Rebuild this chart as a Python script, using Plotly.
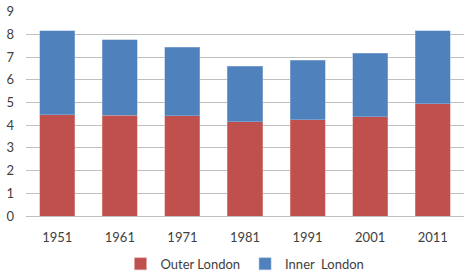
import plotly.graph_objects as go

years = ["1951", "1961", "1971", "1981", "1991", "2001", "2011"]
outer_london = [4.46, 4.43, 4.41, 4.16, 4.25, 4.38, 4.95]
inner_london = [3.69, 3.33, 3.02, 2.43, 2.62, 2.79, 3.20]

fig = go.Figure()
fig.add_trace(go.Bar(x=years, y=outer_london, name="Outer London",
                     marker=dict(color="#C0504D", line=dict(color="#D9A09E", width=0.5))))
fig.add_trace(go.Bar(x=years, y=inner_london, name="Inner\u00a0 London",
                     marker=dict(color="#4F81BD", line=dict(color="#9DB8DB", width=0.5))))

fig.update_layout(
    barmode="stack",
    bargap=0.44,
    width=474, height=278,
    margin=dict(l=26, r=10, t=11, b=62, autoexpand=False),
    paper_bgcolor="white", plot_bgcolor="white",
    font=dict(family="Lato, 'Open Sans', sans-serif", size=13, color="#404040"),
    showlegend=True,
    legend=dict(orientation="h", x=0.5, xanchor="center", y=-0.16, yanchor="top",
                traceorder="normal", font=dict(size=13), itemwidth=30),
    xaxis=dict(showgrid=False, showline=True, linecolor="#BFBFBF", linewidth=1,
               ticks="", tickfont=dict(size=13), ticklabelstandoff=9),
    yaxis=dict(range=[0, 9.03], dtick=1, showgrid=True, gridcolor="#BFBFBF", gridwidth=1,
               zeroline=False, showline=False, ticks="", tickfont=dict(size=13),
               ticklabelstandoff=11),
)

fig.write_html("out.html")
